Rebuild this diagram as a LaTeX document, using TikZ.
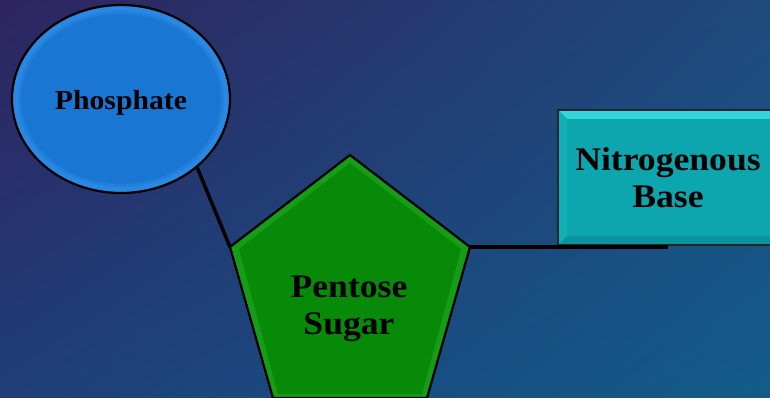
\documentclass[tikz,border=0pt]{standalone}
\usepackage{fontspec}
\setmainfont{Liberation Serif}[FakeStretch=1.08]
\usetikzlibrary{shapes.geometric,shadings}

% background corners
\definecolor{bgTL}{HTML}{2E2460}
\definecolor{bgTR}{HTML}{1E4A7C}
\definecolor{bgBL}{HTML}{1F3E78}
\definecolor{bgBR}{HTML}{125C8A}
% node fills
\definecolor{phosMain}{HTML}{1977D3}
\definecolor{phosEdge}{HTML}{2A88E2}
\definecolor{sugarMain}{HTML}{078A07}
\definecolor{sugarEdge}{HTML}{179C17}
\definecolor{baseMain}{HTML}{0EA6AE}
\definecolor{baseTop}{HTML}{34D6DE}
\definecolor{baseSide}{HTML}{13AFB7}
\definecolor{baseLow}{HTML}{0C949C}

\begin{document}
\begin{tikzpicture}[x=1pt,y=-1pt,
  label font/.style={font=\fontsize{33}{37}\selectfont\bfseries},
  phosbox/.style={ellipse, inner sep=0pt, minimum width=218pt, minimum height=188pt,
    draw=black, line width=2.2pt, fill=phosEdge,
    text height=22pt, text depth=0pt,
    path picture={
      \fill[phosMain!50!phosEdge] (path picture bounding box.center) ellipse [x radius=103pt, y radius=88pt];
      \fill[phosMain] (path picture bounding box.center) ellipse [x radius=100pt, y radius=85pt];},
    font=\fontsize{27.5}{30}\selectfont\bfseries},
  basebox/.style={rectangle, inner sep=0pt, minimum width=220pt, minimum height=135pt,
    draw=black!85, line width=1.6pt, fill=baseMain, align=center,
    label font,
    path picture={
      \fill[baseTop] (path picture bounding box.north west) -- (path picture bounding box.north east)
        -- ([xshift=-9pt,yshift=-9pt]path picture bounding box.north east)
        -- ([xshift=9pt,yshift=-9pt]path picture bounding box.north west) -- cycle;
      \fill[baseSide] (path picture bounding box.north west) -- ([xshift=9pt,yshift=-9pt]path picture bounding box.north west)
        -- ([xshift=9pt,yshift=9pt]path picture bounding box.south west) -- (path picture bounding box.south west) -- cycle;
      \fill[baseLow] (path picture bounding box.south west) -- ([xshift=9pt,yshift=9pt]path picture bounding box.south west)
        -- ([xshift=-9pt,yshift=9pt]path picture bounding box.south east) -- (path picture bounding box.south east) -- cycle;
      \fill[baseMain] ([xshift=9pt,yshift=-9pt]path picture bounding box.north west) rectangle
        ([xshift=-9pt,yshift=9pt]path picture bounding box.south east);
    }},
  link/.style={draw=black, line width=3.5pt}
]
\useasboundingbox (0,0) rectangle (770,398);
\clip (0,0) rectangle (770,398);

% backdrop
\shade[upper left=bgTL, upper right=bgTR, lower left=bgBL, lower right=bgBR] (0,0) rectangle (770,398);

% phosphate group
\node[phosbox] (phos) at (121,99) {Phosphate};

% pentose sugar (pentagon corners)
\coordinate (sT) at (350,155);
\coordinate (sR) at (470,247);
\coordinate (sBR) at (427,398);
\coordinate (sBL) at (273,398);
\coordinate (sL) at (230,247);
\fill[sugarEdge] (sT) -- (sR) -- (sBR) -- (sBL) -- (sL) -- cycle;
\fill[sugarMain] (350,163) -- (461,249) -- (422,394) -- (278,394) -- (239,249) -- cycle;
\draw[black, line width=2.2pt, line join=round] (sT) -- (sR) -- (sBR) -- (sBL) -- (sL) -- cycle;
\node[label font, align=center] (sugar) at (349,309) {Pentose\\Sugar};

% nitrogenous base
\node[basebox] (base) at (668,177.5) {Nitrogenous\\Base};
\coordinate (baseEnd) at (668,247);

% bonds
\draw[link] (phos.-42) -- (sL);
\draw[link] (sR) -- (baseEnd);
\end{tikzpicture}
\end{document}
